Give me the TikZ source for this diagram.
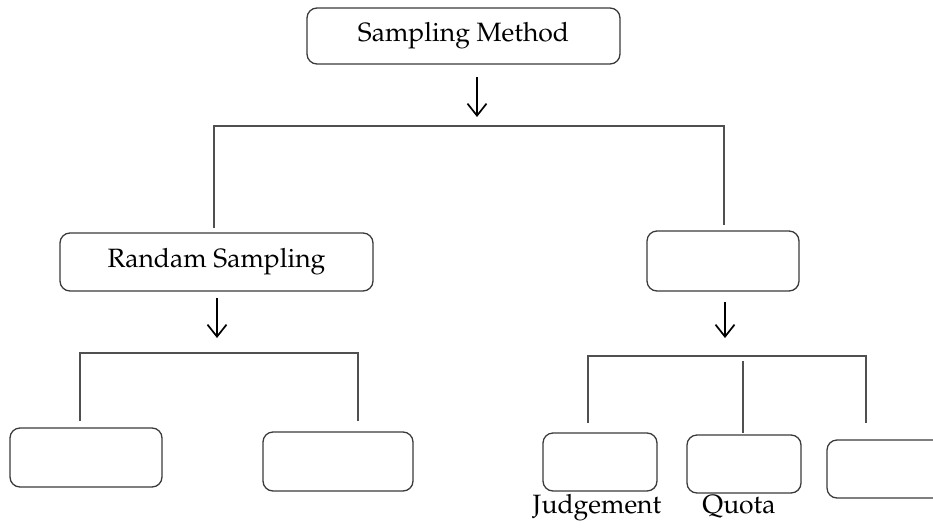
\documentclass[tikz,border=0pt]{standalone}
\usepackage[T1]{fontenc}
\usepackage{mathpazo}
\usetikzlibrary{arrows.meta}
\definecolor{boxline}{HTML}{3A3A3A}
\definecolor{brline}{HTML}{505050}
\tikzset{
  box/.style={draw=boxline, line width=1.3pt, rounded corners=10pt, inner sep=0pt,
    font=\fontsize{26.5}{30}\selectfont, text=black},
  bracket/.style={draw=brline, line width=1.6pt},
  downarrow/.style={draw=black, line width=1.7pt, -{Straight Barb[length=12pt,width=19pt,line width=1.7pt]}},
  lbl/.style={font=\fontsize{26.5}{30}\selectfont, anchor=base, inner sep=0pt}
}
\begin{document}
\begin{tikzpicture}[x=1pt,y=-1pt]
\useasboundingbox (0,0) rectangle (933,530);
\clip (0,0) rectangle (933,530);
% boxes
\node[box, minimum width=313pt, minimum height=56pt] (top) at (463.5,36) {Sampling Method};
\node[box, minimum width=313pt, minimum height=58pt] (rs) at (216.5,262) {Randam Sampling};
\node[box, minimum width=152pt, minimum height=60pt] (ns) at (723,261) {};
\node[box, minimum width=152pt, minimum height=59pt] (la) at (86,457.5) {};
\node[box, minimum width=150pt, minimum height=59pt] (lb) at (338,461.5) {};
\node[box, minimum width=114pt, minimum height=58pt] (jb) at (600,462) {};
\node[box, minimum width=114pt, minimum height=58pt] (qb) at (744,464) {};
\node[box, minimum width=118pt, minimum height=58pt] (tb) at (886,469) {};
% labels
\node[lbl] (jl) at (597,513) {Judgement};
\node[lbl] (ql) at (739,513) {Quota};
% arrows
\coordinate (a1s) at (477,77); \coordinate (a1e) at (477,117);
\coordinate (a2s) at (217,298); \coordinate (a2e) at (217,338);
\coordinate (a3s) at (725,302); \coordinate (a3e) at (725,338);
\draw[downarrow] (a1s) -- (a1e);
\draw[downarrow] (a2s) -- (a2e);
\draw[downarrow] (a3s) -- (a3e);
% bracket 1
\coordinate (b1a) at (214,228); \coordinate (b1b) at (214,126);
\coordinate (b1c) at (724,126); \coordinate (b1d) at (724,225);
\draw[bracket] (b1a) -- (b1b) -- (b1c) -- (b1d);
% bracket 2
\coordinate (b2a) at (80,421); \coordinate (b2b) at (80,353);
\coordinate (b2c) at (358,353); \coordinate (b2d) at (358,421);
\draw[bracket] (b2a) -- (b2b) -- (b2c) -- (b2d);
% bracket 3
\coordinate (b3a) at (588,423); \coordinate (b3b) at (588,356);
\coordinate (b3c) at (866,356); \coordinate (b3d) at (866,423);
\draw[bracket] (b3a) -- (b3b) -- (b3c) -- (b3d);
\coordinate (b3m1) at (743,361); \coordinate (b3m2) at (743,433);
\draw[bracket] (b3m1) -- (b3m2);
\end{tikzpicture}
\end{document}
